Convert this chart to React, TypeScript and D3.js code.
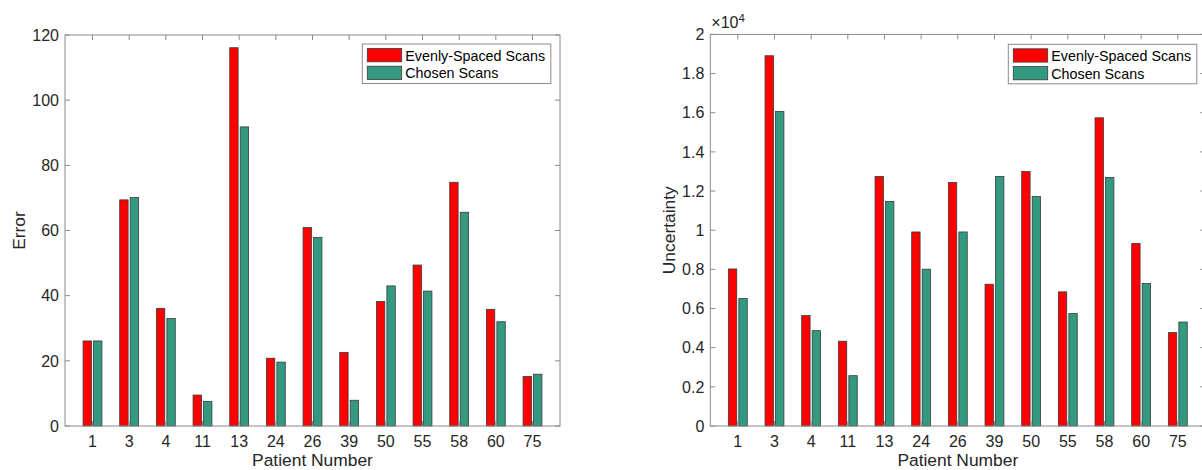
import React from "react";
import * as d3 from "d3";

// Patient identifiers along the x axis
const patients = ["1", "3", "4", "11", "13", "24", "26", "39", "50", "55", "58", "60", "75"];

// Reconstruction error per patient
const errorEvenly = [26.1, 69.4, 36.1, 9.5, 116.1, 20.8, 60.9, 22.6, 38.2, 49.4, 74.8, 35.8, 15.2];
const errorChosen = [26.1, 70.1, 33.0, 7.5, 91.8, 19.6, 57.9, 7.9, 43.0, 41.4, 65.6, 32.0, 15.9];

// Uncertainty per patient
const uncertEvenly = [8020, 18910, 5640, 4330, 12740, 9910, 12440, 7240, 13000, 6850, 15740, 9320, 4770];
const uncertChosen = [6510, 16070, 4870, 2570, 11470, 8010, 9910, 12740, 11720, 5740, 12690, 7280, 5310];

const errorTicks = [0, 20, 40, 60, 80, 100, 120];
const uncertTicks = [0, 2000, 4000, 6000, 8000, 10000, 12000, 14000, 16000, 18000, 20000];

const seriesNames = ["Evenly-Spaced Scans", "Chosen Scans"];
const seriesColors = ["#ff0000", "#339980"];

const FONT = "'Liberation Sans', Arial, Helvetica, sans-serif";
const TEXT = "#262626";
const AXIS = "#8a8a8a";

type ChartProps = {
  left: number;
  right: number;
  top: number;
  bottom: number;
  yMax: number;
  ticks: number[];
  tickFormat: (v: number) => string;
  yLabel: string;
  yLabelX: number;
  a: number[];
  b: number[];
  exponent?: boolean;
};

function BarChart(p: ChartProps) {
  const x = d3.scaleLinear().domain([0.25, 13.75]).range([p.left, p.right]);
  const y = d3.scaleLinear().domain([0, p.yMax]).range([p.bottom, p.top]);
  const unit = x(1) - x(0);
  const barW = 0.2286 * unit;
  const offs = [-0.143, 0.143];
  const tickLen = 5;
  const series = [p.a, p.b];

  return (
    <g fontFamily={FONT}>
      {/* bars */}
      {series.map((vals, si) =>
        vals.map((v, i) => {
          const cx = x(i + 1) + offs[si] * unit;
          return (
            <rect
              key={`b${si}-${i}`}
              x={cx - barW / 2}
              y={y(v)}
              width={barW}
              height={y(0) - y(v)}
              fill={seriesColors[si]}
              stroke="#3a3a3a"
              strokeWidth={0.8}
            />
          );
        })
      )}
      {/* axes box */}
      <rect
        x={p.left}
        y={p.top}
        width={p.right - p.left}
        height={p.bottom - p.top}
        fill="none"
        stroke={AXIS}
        strokeWidth={1}
      />
      {/* x ticks */}
      {patients.map((name, i) => {
        const px = x(i + 1);
        return (
          <g key={`xt${i}`}>
            <line x1={px} x2={px} y1={p.bottom} y2={p.bottom - tickLen} stroke={AXIS} />
            <line x1={px} x2={px} y1={p.top} y2={p.top + tickLen} stroke={AXIS} />
            <text x={px} y={p.bottom + 20.5} textAnchor="middle" fontSize={16} fill={TEXT}>
              {name}
            </text>
          </g>
        );
      })}
      {/* y ticks */}
      {p.ticks.map((t) => {
        const py = y(t);
        return (
          <g key={`yt${t}`}>
            <line x1={p.left} x2={p.left + tickLen} y1={py} y2={py} stroke={AXIS} />
            <line x1={p.right} x2={p.right - tickLen} y1={py} y2={py} stroke={AXIS} />
            <text x={p.left - 6} y={py + 5.7} textAnchor="end" fontSize={16} fill={TEXT}>
              {p.tickFormat(t)}
            </text>
          </g>
        );
      })}
      {p.exponent && (
        <text x={p.left + 1} y={p.top - 6} fontSize={16} fill={TEXT}>
          ×10
          <tspan dy={-6} fontSize={11.5}>4</tspan>
        </text>
      )}
      {/* axis labels */}
      <text
        x={(p.left + p.right) / 2}
        y={466}
        textAnchor="middle"
        fontSize={17.4}
        fill={TEXT}
      >
        Patient Number
      </text>
      <text
        transform={`translate(${p.yLabelX},${(p.top + p.bottom) / 2}) rotate(-90)`}
        textAnchor="middle"
        fontSize={17.4}
        fill={TEXT}
      >
        {p.yLabel}
      </text>
    </g>
  );
}

function Legend({ x0, y0 }: { x0: number; y0: number }) {
  return (
    <g fontFamily={FONT}>
      <rect x={x0} y={y0} width={188.5} height={39.5} fill="#fff" stroke={AXIS} strokeWidth={1} />
      {seriesNames.map((n, i) => (
        <g key={n}>
          <rect
            x={x0 + 5}
            y={y0 + 4.5 + i * 17.7}
            width={34.4}
            height={13.3}
            fill={seriesColors[i]}
            stroke="#3a3a3a"
            strokeWidth={0.8}
          />
          <text x={x0 + 43} y={y0 + 16.5 + i * 17.7} fontSize={14.3} fill="#000">
            {n}
          </text>
        </g>
      ))}
    </g>
  );
}

export default function App() {
  const fmtInt = (v: number) => d3.format("d")(v);
  const fmtE4 = (v: number) => {
    const s = v / 10000;
    return s === 0 ? "0" : d3.format("~g")(Math.round(s * 10) / 10);
  };
  return (
    <svg
      width={1202}
      height={470}
      style={{ position: "absolute", left: 0, top: 0, background: "#fff" }}
    >
      <rect width={1202} height={470} fill="#fff" />
      <BarChart
        left={65}
        right={560}
        top={35}
        bottom={426}
        yMax={120}
        ticks={errorTicks}
        tickFormat={fmtInt}
        yLabel="Error"
        yLabelX={25}
        a={errorEvenly}
        b={errorChosen}
      />
      <Legend x0={362.3} y0={44} />
      <BarChart
        left={710.3}
        right={1205.3}
        top={34.4}
        bottom={426}
        yMax={20000}
        ticks={uncertTicks}
        tickFormat={fmtE4}
        yLabel="Uncertainty"
        yLabelX={675}
        a={uncertEvenly}
        b={uncertChosen}
        exponent
      />
      <Legend x0={1008.3} y0={44.3} />
    </svg>
  );
}
